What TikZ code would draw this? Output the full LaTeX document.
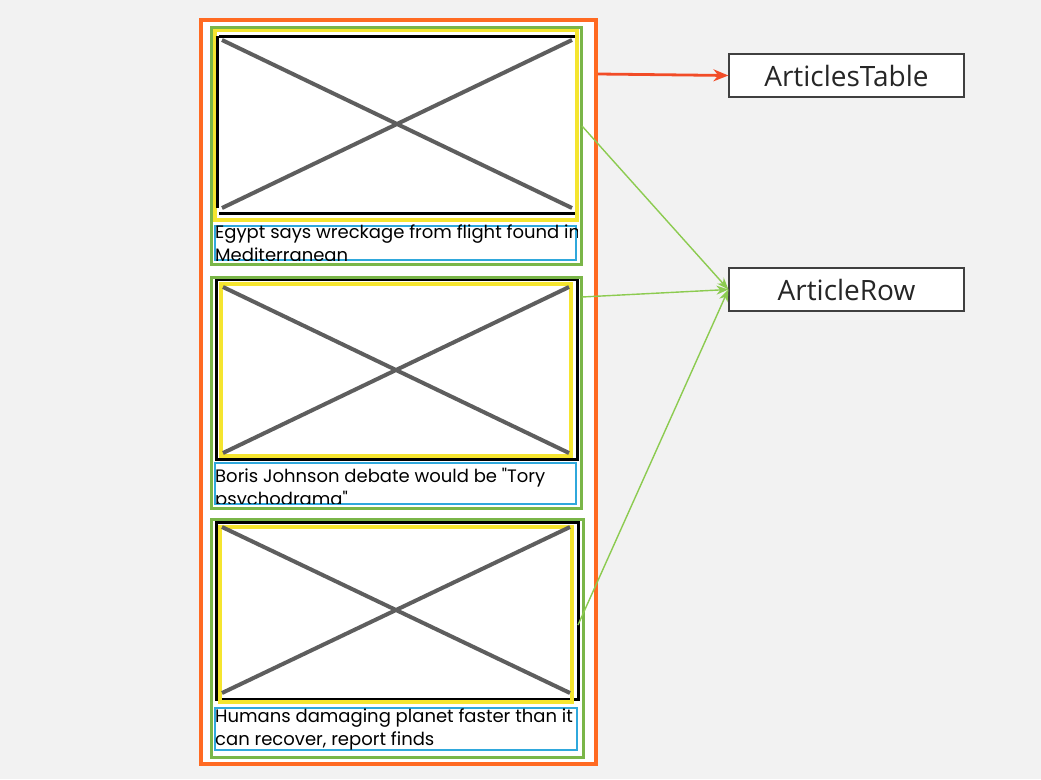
\documentclass[tikz,border=0pt]{standalone}
\usepackage{fontspec}
\setmainfont{Poppins}
\newfontfamily\boxfont{Open Sans}
\usetikzlibrary{arrows.meta}
\definecolor{bgc}{HTML}{F2F2F2}
\definecolor{orangec}{HTML}{FF6A22}
\definecolor{greenc}{HTML}{7AB648}
\definecolor{yellowc}{HTML}{F5E52F}
\definecolor{bluec}{HTML}{2FA8DC}
\definecolor{crossc}{HTML}{5E5E5E}
\definecolor{redc}{HTML}{F24C27}
\definecolor{lgreen}{HTML}{8CCB50}
\tikzset{
  x=1pt, y=-1pt,
  outerbox/.style={draw=orangec, line width=3.5pt, fill=white},
  rowbox/.style={draw=greenc, line width=3pt},
  imgbox/.style={draw=black, line width=3pt},
  ylwbox/.style={draw=yellowc, line width=3.5pt},
  txtbox/.style={draw=bluec, line width=2pt},
  crossln/.style={draw=crossc, line width=4pt},
  label/.style={draw=black!75, line width=1.2pt, fill=white, minimum width=235pt, minimum height=43pt, inner sep=0pt, font=\boxfont\fontsize{28}{30}\selectfont, text=black!85},
  rowtxt/.style={anchor=base west, inner sep=0pt, align=left, font=\fontsize{18}{23}\selectfont},
  conn/.style={draw=lgreen, line width=1.4pt, -{Stealth[length=12pt,width=9pt]}},
}
\begin{document}
\begin{tikzpicture}
\useasboundingbox[fill=bgc] (0,0) rectangle (1041,779);
\draw[outerbox] (201,20) rectangle (596,764);
\coordinate (outerR) at (598,74);

% row 1
\draw[ylwbox] (215,30) rectangle (577,220);
\draw[imgbox] (217,36) -- (217,208) (219,36) -- (575,36) (219,213) -- (575,213);
\draw[crossln] (222,40) -- (572,208) (222,208) -- (572,40);
\draw[txtbox] (215,226) rectangle (576,260);
\begin{scope}
\clip (214,220) rectangle (577,260);
\node[rowtxt] (t1) at (215,261) {Egypt says wreckage from flight found in\\Mediterranean};
\end{scope}
\draw[rowbox] (211,27) rectangle (581,264);
\coordinate (r1) at (582,126);

% row 2
\draw[imgbox] (216,279) rectangle (577,459);
\draw[ylwbox] (221,284) rectangle (571,456);
\draw[crossln] (223,287) -- (569,453) (223,453) -- (569,287);
\draw[txtbox] (215,463) rectangle (576,504);
\begin{scope}
\clip (214,460) rectangle (577,503);
\node[rowtxt] (t2) at (215,505) {Boris Johnson debate would be \textquotedbl Tory\\psychodrama\textquotedbl};
\end{scope}
\draw[rowbox] (211,277) rectangle (581,508);
\coordinate (r2) at (582,297);

% row 3
\draw[imgbox] (216,522) rectangle (578,699);
\draw[ylwbox] (220,527) rectangle (572,702);
\draw[crossln] (222,527) -- (570,693) (222,693) -- (570,527);
\draw[txtbox] (215,708) rectangle (577,750);
\node[rowtxt] (t3) at (215,745) {Humans damaging planet faster than it\\can recover, report finds};
\draw[rowbox] (211,519) rectangle (583,757);
\coordinate (r3) at (578,625);

% labels
\node[label] (at) at (846.5,75.5) {ArticlesTable};
\node[label] (ar) at (846.5,289.5) {ArticleRow};

\draw[draw=redc, line width=2.8pt, -{Stealth[length=15pt,width=12pt]}] (outerR) -- (at.west);
\draw[conn] (r1) -- (ar.west);
\draw[conn] (r2) -- (ar.west);
\draw[conn] (r3) -- (ar.west);
\end{tikzpicture}
\end{document}
